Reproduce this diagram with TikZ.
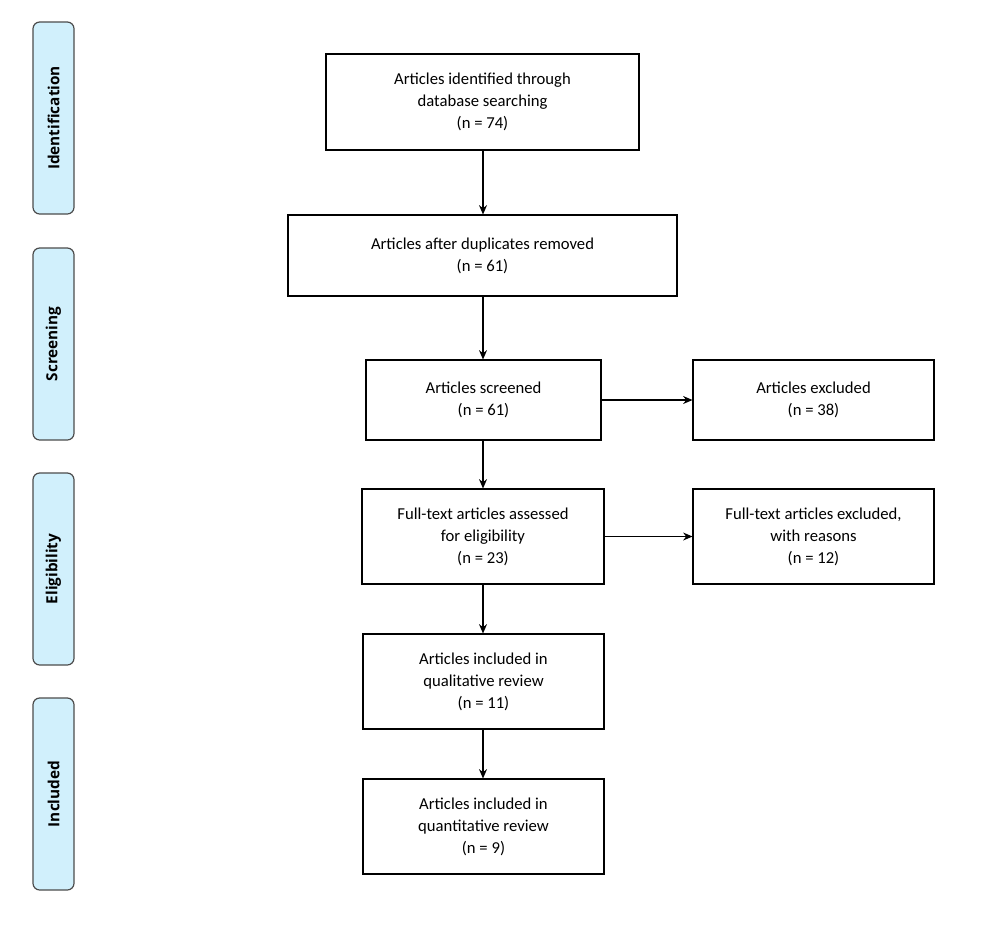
\documentclass[tikz,border=0pt]{standalone}
\usepackage{fontspec}
\setmainfont{Carlito}
\newfontfamily\sidefont{Open Sans}
\usetikzlibrary{arrows.meta}
\begin{document}
\begin{tikzpicture}[x=0.75pt,y=-0.75pt,
  box/.style={draw=black,line width=0.8pt,align=center,font=\fontsize{12.5}{16.5}\selectfont,inner sep=0pt},
  side/.style={draw=black!70,fill=cyan!18!white,rounded corners=5pt,line width=0.9pt,inner sep=0pt},
  arr/.style={-{Stealth[length=7pt,width=6pt]},line width=0.8pt}]
\useasboundingbox (0,0) rectangle (986,926);
\def\bx#1#2#3#4#5#6{\node[box,minimum width={(#4-#2)*0.75pt},minimum height={(#5-#3)*0.75pt}] (#1) at ({(#2+#4)/2},{(#3+#5)/2}) {#6};}
\def\sd#1#2#3#4{\node[side,minimum width={41*0.75pt},minimum height={(#3-#2)*0.75pt}] (#1) at (53.5,{(#2+#3)/2}) {}; \node[rotate=90,font=\sidefont\bfseries\fontsize{11.5}{13}\selectfont] at (#1) {#4};}
\sd{s1}{22}{214}{Identification}
\sd{s2}{248}{440}{Screening}
\sd{s3}{473}{665}{Eligibility}
\sd{s4}{698}{890}{Included}
\bx{b1}{326}{54}{639}{150}{Articles identified through\\database searching\\(n = 74)}
\bx{b2}{288}{215}{677}{296}{Articles after duplicates removed\\(n = 61)}
\bx{b3}{366}{360}{601}{440}{Articles screened\\(n = 61)}
\bx{e1}{693}{360}{934}{440}{Articles excluded\\(n = 38)}
\bx{b4}{362}{489}{604}{584}{Full-text articles assessed\\for eligibility\\(n = 23)}
\bx{e2}{693}{489}{934}{584}{Full-text articles excluded,\\with reasons\\(n = 12)}
\bx{b5}{363}{634}{604}{729}{Articles included in\\qualitative review\\(n = 11)}
\bx{b6}{363}{779}{604}{874}{Articles included in\\quantitative review\\(n = 9)}
\draw[arr] (b1.south -| 483,0) -- (b2.north -| 483,0);
\draw[arr] (b2.south -| 483,0) -- (b3.north -| 483,0);
\draw[arr] (b3.south -| 483,0) -- (b4.north -| 483,0);
\draw[arr] (b4.south -| 483,0) -- (b5.north -| 483,0);
\draw[arr] (b5.south -| 483,0) -- (b6.north -| 483,0);
\draw[arr] (b3.east) -- (e1.west);
\draw[arr] (b4.east) -- (e2.west);
\end{tikzpicture}
\end{document}
